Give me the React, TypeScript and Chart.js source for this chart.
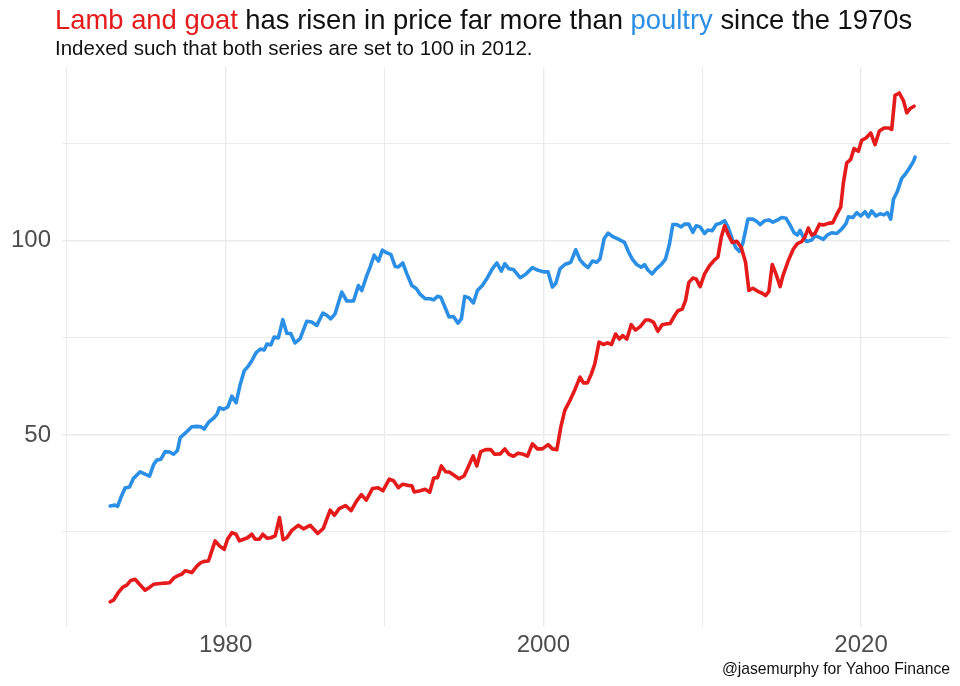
import React, { useEffect, useRef } from "react";
import Chart from "chart.js/auto";

const lambYears = [
  1972.73, 1972.94, 1973.25, 1973.53, 1973.78, 1974.03, 1974.3, 1974.58, 1974.93, 1975.21,
  1975.46, 1975.88, 1976.19, 1976.47, 1976.76, 1977.03, 1977.24, 1977.45, 1977.66, 1977.87,
  1978.19, 1978.44, 1978.65, 1978.92, 1979.13, 1979.34, 1979.61, 1979.91, 1980.12, 1980.39,
  1980.66, 1980.87, 1981.13, 1981.38, 1981.65, 1981.86, 1982.13, 1982.34, 1982.6, 1982.85,
  1983.12, 1983.39, 1983.62, 1983.85, 1984.17, 1984.57, 1984.9, 1985.32, 1985.6, 1985.8,
  1986.15, 1986.58, 1986.85, 1987.15, 1987.55, 1987.9, 1988.25, 1988.55, 1988.85, 1989.25,
  1989.6, 1989.9, 1990.3, 1990.57, 1990.88, 1991.15, 1991.45, 1991.72, 1991.87, 1992.25,
  1992.56, 1992.85, 1993.1, 1993.34, 1993.58, 1993.85, 1994.1, 1994.38, 1994.69, 1995.01,
  1995.3, 1995.58, 1995.81, 1996.06, 1996.37, 1996.69, 1996.94, 1997.28, 1997.57, 1997.84,
  1998.12, 1998.41, 1998.75, 1999.0, 1999.31, 1999.63, 1999.94, 2000.3, 2000.57, 2000.85,
  2001.1, 2001.35, 2001.68, 2001.98, 2002.31, 2002.52, 2002.78, 2003.03, 2003.24, 2003.51,
  2003.78, 2004.04, 2004.29, 2004.55, 2004.79, 2005.0, 2005.26, 2005.53, 2005.8, 2006.1,
  2006.43, 2006.68, 2006.94, 2007.21, 2007.48, 2007.73, 2007.98, 2008.26, 2008.47, 2008.74,
  2008.95, 2009.16, 2009.41, 2009.62, 2009.87, 2010.15, 2010.46, 2010.78, 2010.99, 2011.2,
  2011.41, 2011.62, 2011.89, 2012.18, 2012.46, 2012.73, 2012.94, 2013.19, 2013.5, 2013.78,
  2013.99, 2014.2, 2014.41, 2014.66, 2014.91, 2015.08, 2015.42, 2015.74, 2015.99, 2016.26,
  2016.47, 2016.68, 2016.89, 2017.1, 2017.38, 2017.63, 2017.94, 2018.22, 2018.47, 2018.72,
  2018.89, 2019.1, 2019.35, 2019.56, 2019.83, 2020.04, 2020.31, 2020.61, 2020.88, 2021.15,
  2021.45, 2021.72, 2021.93, 2022.14, 2022.41, 2022.67, 2022.88, 2023.09, 2023.34,
];
const lambValues = [
  7.0, 7.4, 9.4, 10.8, 11.3, 12.5, 12.8, 11.5, 10.0, 10.7,
  11.5, 11.7, 11.8, 11.9, 13.2, 13.8, 14.1, 15.0, 14.8, 14.5,
  16.2, 17.1, 17.4, 17.5, 20.1, 22.7, 21.4, 20.5, 23.1, 24.8,
  24.4, 22.7, 23.1, 23.5, 24.4, 23.1, 23.1, 24.4, 23.4, 23.5,
  24.0, 28.7, 23.0, 23.5, 25.4, 26.7, 25.8, 26.7, 25.5, 24.6,
  25.9, 30.6, 29.3, 31.0, 31.8, 30.5, 33.0, 34.6, 33.2, 36.2,
  36.4, 35.6, 38.6, 38.2, 36.4, 37.3, 37.0, 36.9, 35.3, 35.6,
  36.0, 35.2, 38.9, 39.0, 42.0, 40.5, 40.4, 39.6, 38.7, 39.4,
  42.0, 44.6, 42.0, 45.7, 46.2, 46.2, 45.0, 45.1, 46.4, 45.0,
  44.5, 45.3, 45.0, 44.5, 47.7, 46.4, 46.4, 47.5, 46.4, 46.2,
  52.0, 56.3, 58.9, 61.6, 64.9, 63.4, 63.4, 65.8, 68.3, 73.9,
  73.3, 73.7, 73.3, 76.0, 74.7, 75.6, 74.7, 78.4, 77.0, 77.9,
  79.6, 79.6, 79.0, 76.7, 78.4, 78.6, 78.7, 80.7, 82.0, 82.4,
  84.6, 89.3, 90.4, 90.2, 88.2, 91.5, 93.6, 95.1, 95.8, 100.9,
  103.9, 101.8, 99.6, 99.9, 98.3, 94.5, 87.2, 87.8, 87.0, 86.5,
  85.9, 87.0, 93.9, 91.3, 88.2, 91.0, 94.9, 97.9, 99.3, 99.8,
  101.0, 103.3, 101.5, 101.9, 104.3, 104.1, 104.5, 104.7, 106.8, 108.7,
  115.0, 120.1, 121.0, 123.8, 123.1, 125.9, 126.5, 127.8, 124.8, 128.3,
  129.1, 129.1, 128.7, 137.5, 138.1, 136.1, 133.0, 134.1, 134.7,
];

const poultryYears = [
  1972.73, 1973.04, 1973.2, 1973.4, 1973.67, 1973.95, 1974.2, 1974.62, 1974.93, 1975.21,
  1975.46, 1975.67, 1975.92, 1976.19, 1976.47, 1976.72, 1976.97, 1977.14, 1977.39, 1977.6,
  1977.87, 1978.19, 1978.44, 1978.65, 1978.92, 1979.24, 1979.45, 1979.61, 1979.87, 1980.14,
  1980.39, 1980.66, 1980.92, 1981.17, 1981.44, 1981.65, 1981.92, 1982.18, 1982.43, 1982.6,
  1982.85, 1983.05, 1983.32, 1983.6, 1983.85, 1984.1, 1984.37, 1984.69, 1985.11, 1985.42,
  1985.74, 1986.12, 1986.37, 1986.62, 1986.89, 1987.31, 1987.63, 1988.05, 1988.36, 1988.57,
  1988.89, 1989.1, 1989.35, 1989.62, 1989.87, 1990.15, 1990.4, 1990.67, 1990.88, 1991.15,
  1991.41, 1991.72, 1992.0, 1992.25, 1992.56, 1992.88, 1993.09, 1993.34, 1993.54, 1993.79,
  1994.06, 1994.34, 1994.63, 1994.84, 1995.05, 1995.32, 1995.6, 1995.85, 1996.16, 1996.48,
  1996.79, 1997.07, 1997.36, 1997.57, 1997.84, 1998.12, 1998.54, 1998.89, 1999.31, 1999.67,
  2000.05, 2000.3, 2000.57, 2000.78, 2001.05, 2001.35, 2001.73, 2002.04, 2002.31, 2002.57,
  2002.82, 2003.09, 2003.36, 2003.57, 2003.83, 2004.08, 2004.37, 2004.69, 2005.11, 2005.38,
  2005.63, 2005.88, 2006.16, 2006.37, 2006.58, 2006.85, 2007.1, 2007.42, 2007.69, 2007.94,
  2008.15, 2008.4, 2008.68, 2008.89, 2009.16, 2009.41, 2009.62, 2009.87, 2010.15, 2010.36,
  2010.63, 2010.88, 2011.13, 2011.41, 2011.62, 2011.89, 2012.1, 2012.35, 2012.56, 2012.88,
  2013.19, 2013.44, 2013.65, 2013.93, 2014.2, 2014.45, 2014.76, 2015.0, 2015.28, 2015.53,
  2015.78, 2015.99, 2016.16, 2016.37, 2016.58, 2016.89, 2017.1, 2017.38, 2017.63, 2017.88,
  2018.15, 2018.47, 2018.78, 2019.06, 2019.2, 2019.48, 2019.73, 2019.98, 2020.25, 2020.46,
  2020.67, 2020.94, 2021.2, 2021.45, 2021.66, 2021.87, 2022.04, 2022.29, 2022.56, 2022.77,
  2023.04, 2023.3, 2023.4,
];
const poultryValues = [
  31.7, 31.9, 31.6, 33.8, 36.3, 36.6, 38.8, 40.5, 39.9, 39.4,
  42.3, 43.5, 43.7, 45.7, 45.6, 45.0, 46.0, 49.3, 50.2, 51.0,
  52.1, 52.2, 52.1, 51.5, 53.2, 54.3, 55.3, 57.0, 56.6, 57.2,
  60.0, 58.3, 63.0, 66.5, 67.8, 69.1, 71.2, 72.1, 71.9, 73.4,
  73.2, 75.2, 75.0, 79.7, 76.2, 76.1, 73.7, 74.8, 79.3, 79.1,
  78.2, 81.4, 80.8, 79.9, 81.2, 86.8, 84.5, 84.5, 88.5, 87.2,
  91.1, 93.3, 96.3, 94.8, 97.6, 96.9, 96.5, 93.4, 93.3, 94.3,
  91.5, 88.5, 87.7, 86.2, 85.1, 85.1, 84.8, 85.7, 85.5, 83.1,
  80.4, 80.5, 78.8, 79.9, 85.7, 85.3, 84.0, 87.2, 88.5, 90.5,
  92.8, 94.3, 92.2, 94.1, 92.8, 92.6, 90.5, 91.4, 93.1, 92.4,
  92.0, 92.0, 88.1, 89.0, 92.8, 93.9, 94.5, 97.7, 95.1, 93.9,
  93.1, 94.8, 94.5, 95.4, 100.6, 102.0, 101.1, 100.5, 99.6, 97.0,
  95.1, 93.9, 93.2, 93.9, 92.5, 91.5, 92.7, 93.9, 95.3, 99.2,
  104.2, 104.2, 103.6, 104.3, 104.3, 102.2, 103.9, 103.6, 101.9, 102.8,
  102.6, 104.2, 104.5, 105.2, 103.6, 100.5, 98.3, 97.3, 99.4, 105.6,
  105.6, 105.0, 104.2, 105.2, 105.4, 104.8, 105.4, 106.0, 105.8, 104.1,
  102.1, 101.5, 102.7, 100.9, 99.8, 100.2, 101.3, 100.9, 100.4, 101.5,
  102.1, 101.9, 103.0, 104.5, 106.2, 106.0, 107.3, 106.4, 107.5, 106.2,
  107.7, 106.4, 107.0, 106.7, 107.3, 105.6, 110.7, 112.8, 116.1, 117.1,
  118.7, 120.5, 121.6,
];

const xTickValues = [1970, 1980, 1990, 2000, 2010, 2020];
const xTickLabels = ["", "1980", "", "2000", "", "2020"];
const yTickValues = [25, 50, 75, 100, 125];
const yTickLabels = ["", "50", "", "100", ""];

const RED = "#e51a1a";
const BLUE = "#2b8fe5";
const FONT = '"Liberation Sans", Arial, sans-serif';

export default function App() {
  const canvasRef = useRef<HTMLCanvasElement | null>(null);

  useEffect(() => {
    if (!canvasRef.current) return;
    const lamb = lambYears.map((x, i) => ({ x, y: lambValues[i] }));
    const poultry = poultryYears.map((x, i) => ({ x, y: poultryValues[i] }));
    const gridColor = "#ebebeb";
    const chart = new Chart(canvasRef.current, {
      type: "line",
      data: {
        datasets: [
          {
            label: "Lamb and goat",
            data: lamb,
            borderColor: RED,
            backgroundColor: RED,
            borderWidth: 3.6,
            pointRadius: 0,
            tension: 0,
            borderJoinStyle: "round",
            borderCapStyle: "round",
          },
          {
            label: "Poultry",
            data: poultry,
            borderColor: BLUE,
            backgroundColor: BLUE,
            borderWidth: 3.6,
            pointRadius: 0,
            tension: 0,
            borderJoinStyle: "round",
            borderCapStyle: "round",
          },
        ],
      },
      options: {
        animation: false,
        responsive: true,
        maintainAspectRatio: false,
        layout: { padding: { top: 67, right: 10, left: 0, bottom: 19 } },
        plugins: { legend: { display: false }, tooltip: { enabled: false }, title: { display: false } },
        scales: {
          x: {
            type: "linear",
            min: 1969.7,
            max: 2025.6,
            afterBuildTicks: (scale: any) => {
              scale.ticks = xTickValues.map((v) => ({ value: v }));
            },
            afterFit: (scale: any) => {
              scale.height = 40;
            },
            ticks: {
              autoSkip: false,
              maxRotation: 0,
              padding: 4,
              color: "#4d4d4d",
              font: { family: FONT, size: 24 },
              callback: (v: any) => {
                const i = xTickValues.indexOf(Number(v));
                return i >= 0 ? xTickLabels[i] : "";
              },
            },
            grid: {
              color: gridColor,
              lineWidth: (ctx: any) => (ctx.tick && ctx.tick.value % 20 === 0 ? 1.4 : 1.0),
              drawTicks: false,
            },
            border: { display: false },
          },
          y: {
            type: "linear",
            min: 0.5,
            max: 144.8,
            afterBuildTicks: (scale: any) => {
              scale.ticks = yTickValues.map((v) => ({ value: v }));
            },
            afterFit: (scale: any) => {
              scale.width = 62;
            },
            ticks: {
              autoSkip: false,
              padding: 11,
              color: "#4d4d4d",
              font: { family: FONT, size: 24 },
              callback: (v: any) => {
                const i = yTickValues.indexOf(Number(v));
                return i >= 0 ? yTickLabels[i] : "";
              },
            },
            grid: {
              color: gridColor,
              lineWidth: (ctx: any) => (ctx.tick && ctx.tick.value % 50 === 0 ? 1.4 : 1.0),
              drawTicks: false,
            },
            border: { display: false },
          },
        },
      },
    });
    return () => chart.destroy();
  }, []);

  return (
    <div
      style={{
        position: "absolute",
        left: 0,
        top: 0,
        width: 960,
        height: 686,
        background: "#ffffff",
        fontFamily: FONT,
        overflow: "hidden",
      }}
    >
      <canvas ref={canvasRef} style={{ position: "absolute", left: 0, top: 0 }} />
      <div
        style={{
          position: "absolute",
          left: 55,
          top: 6,
          fontSize: 27.4,
          lineHeight: "27px",
          whiteSpace: "nowrap",
          color: "#111111",
        }}
      >
        <span style={{ color: RED }}>Lamb and goat</span> has risen in price far more than{" "}
        <span style={{ color: BLUE }}>poultry</span> since the 1970s
      </div>
      <div
        style={{
          position: "absolute",
          left: 55,
          top: 38,
          fontSize: 20.5,
          lineHeight: "20.5px",
          whiteSpace: "nowrap",
          color: "#111111",
        }}
      >
        Indexed such that both series are set to 100 in 2012.
      </div>
      <div
        style={{
          position: "absolute",
          right: 10,
          top: 661,
          fontSize: 15.7,
          lineHeight: "15.7px",
          whiteSpace: "nowrap",
          color: "#111111",
        }}
      >
        @jasemurphy for Yahoo Finance
      </div>
    </div>
  );
}
